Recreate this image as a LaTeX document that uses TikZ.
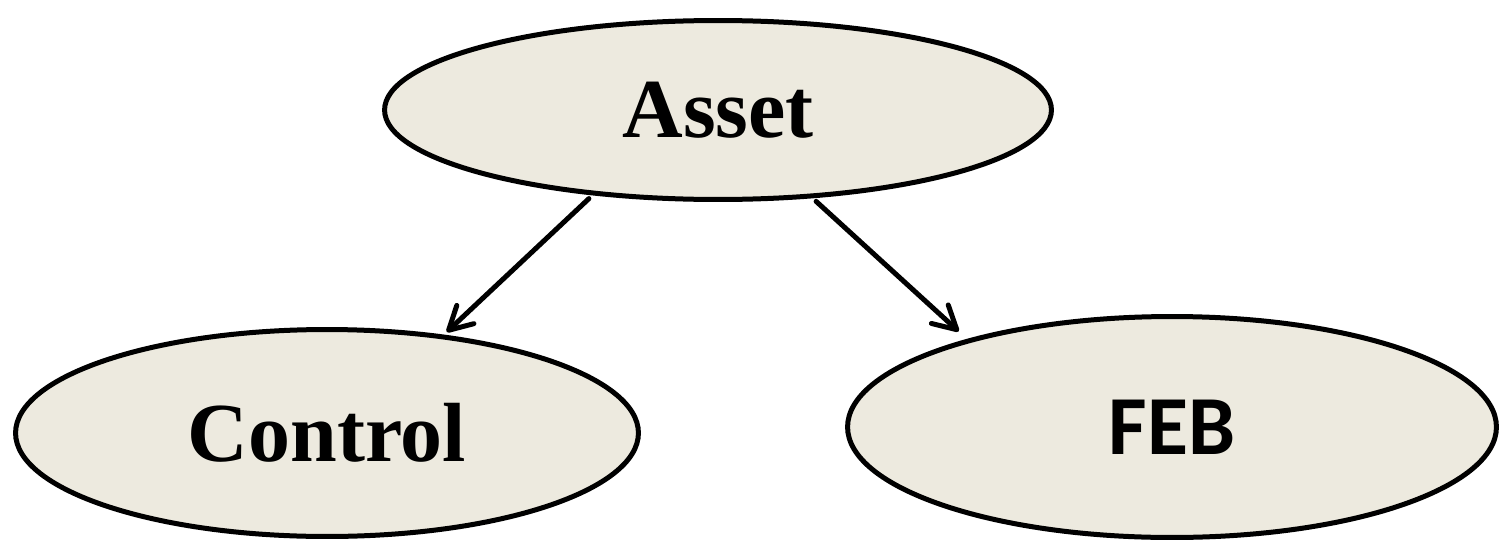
\documentclass[tikz,border=0pt]{standalone}
\usepackage{fontspec}
\setmainfont{Liberation Serif}
\newfontfamily\calibri{Carlito}
\usetikzlibrary{shapes.geometric,arrows.meta}
\definecolor{beige}{RGB}{237,234,223}

\begin{document}
\begin{tikzpicture}[x=0.02cm,y=-0.02cm]
    \tikzstyle{blob}=[ellipse,draw,fill=beige,line width=0.1cm,inner sep=0pt,outer sep=0pt,
      font=\fontsize{47.8}{57}\selectfont\bfseries]
    \tikzstyle{link}=[line width=0.1cm,line cap=round,
      -{Straight Barb[length=0.46cm,width=0.5cm,round]}]
    \useasboundingbox (0,0) rectangle (1503,541);
    \node[blob,minimum width=13.34cm,minimum height=3.58cm] at (718,110) (asset) {Asset};
    \node[blob,minimum width=12.46cm,minimum height=4.14cm] at (327,433) (control) {Control};
    \node[blob,minimum width=12.98cm,minimum height=4.42cm] at (1172,427) (feb) {\calibri FEB};
    \draw[link,shorten <=0.16cm,shorten >=0.14cm] (asset.214) -- (control.40);
    \draw[link,shorten <=0.16cm,shorten >=0.28cm] (asset.317) -- (feb.157);
  \end{tikzpicture}
\end{document}
